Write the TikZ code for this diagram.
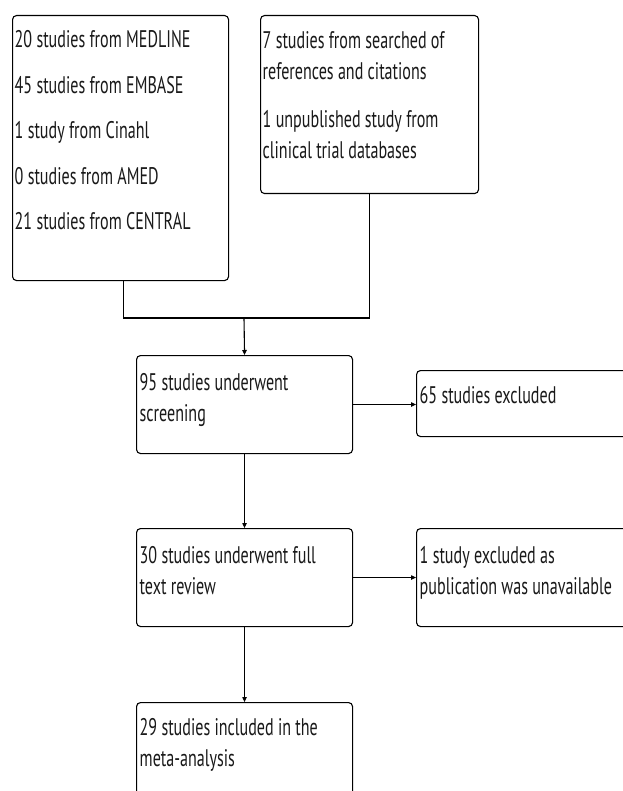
\documentclass[tikz,border=0pt]{standalone}
\usepackage{fontspec}
\setmainfont[FakeStretch=0.67]{PT Sans}
\usetikzlibrary{arrows.meta}
\begin{document}
\begin{tikzpicture}[x=1pt,y=-1pt,
  box/.style={draw=black, line width=1.1pt, rounded corners=4pt, inner sep=0pt, anchor=north west},
  txt/.style={anchor=base west, inner sep=0pt, font=\fontsize{24}{31}\selectfont, text=black!90},
  conn/.style={line width=1.1pt},
  arr/.style={conn, -{Triangle[length=5pt,width=4.5pt]}}]
\useasboundingbox (0,0) rectangle (622,791);
\fill[white] (0,0) rectangle (622,791);
% boxes
\node[box, minimum width=216pt, minimum height=265pt] (src1) at (12,15) {};
\node[box, minimum width=218pt, minimum height=178pt] (src2) at (260,15) {};
\node[box, minimum width=216pt, minimum height=98pt] (scr) at (136,355) {};
\node[box, minimum width=230pt, minimum height=66pt] (exc1) at (416,370) {};
\node[box, minimum width=216pt, minimum height=98pt] (full) at (136,528) {};
\node[box, minimum width=230pt, minimum height=98pt] (exc2) at (416,528) {};
\node[box, minimum width=216pt, minimum height=120pt] (inc) at (136,702) {};
% texts
\node[txt] (t1) at (14.5,48) {\vtop{\hbox{20 studies from MEDLINE}\vskip14.5pt
  \hbox{45 studies from EMBASE}\vskip14.5pt
  \hbox{1 study from Cinahl}\vskip14.5pt
  \hbox{0 studies from AMED}\vskip14.5pt
  \hbox{21 studies from CENTRAL}}};
\node[txt] (t2) at (262.5,49) {\vtop{\hbox{7 studies from searched of}
  \hbox{references and citations}\vskip17pt
  \hbox{1 unpublished study from}
  \hbox{clinical trial databases}}};
\node[txt] (t3) at (139.5,390) {\vtop{\hbox{95 studies underwent}\hbox{screening}}};
\node[txt] (t4) at (419.5,403) {65 studies excluded};
\node[txt] (t5) at (139.5,563) {\vtop{\hbox{30 studies underwent full}\hbox{text review}}};
\node[txt] (t6) at (419.5,563) {\vtop{\hbox{1 study excluded as}\hbox{publication was unavailable}}};
\node[txt] (t7) at (139.5,735) {\vtop{\hbox{29 studies included in the}\hbox{meta-analysis}}};
% connectors
\coordinate (j) at (244,318);
\draw[conn] ([xshift=3pt]src1.south) |- (j) -| (src2.south);
\draw[arr] (j) -- (scr.north);
\draw[arr] (scr.east) -- (scr.east -| exc1.west);
\draw[arr] (scr.south) -- (full.north);
\draw[arr] (full.east) -- (full.east -| exc2.west);
\draw[arr] (full.south) -- (inc.north);
\end{tikzpicture}
\end{document}
